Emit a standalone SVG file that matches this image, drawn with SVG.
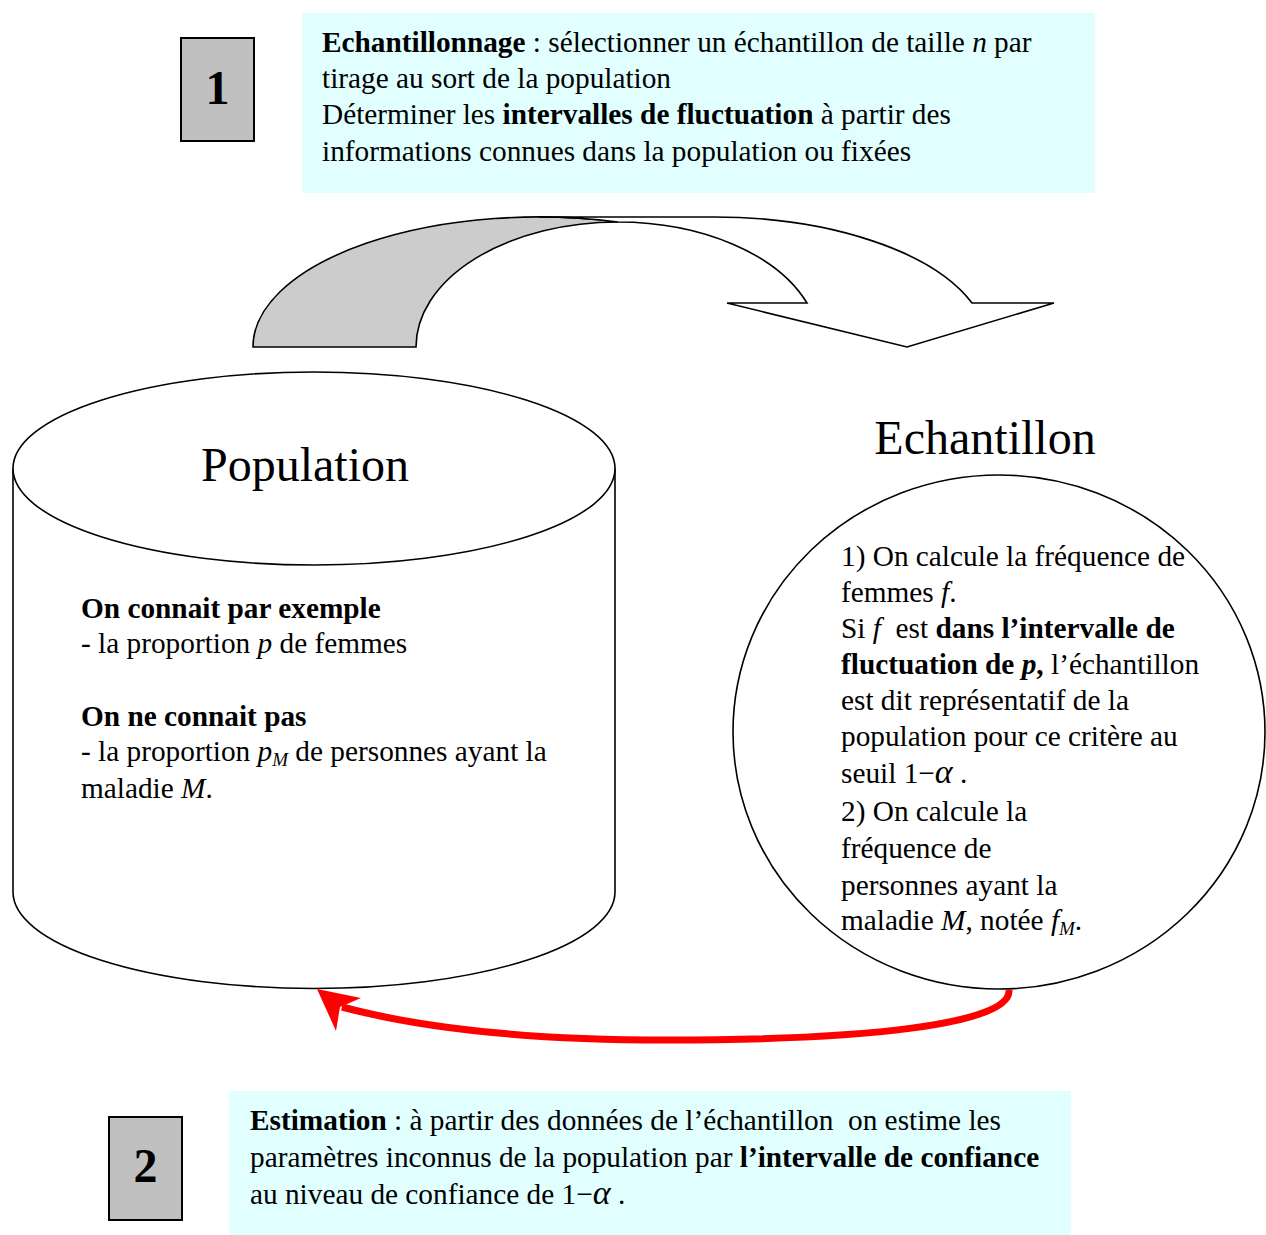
<svg xmlns="http://www.w3.org/2000/svg" width="1266" height="1235" viewBox="0 0 1266 1235">
<style>
text{font-family:"Liberation Serif","Times New Roman",serif;fill:#000;white-space:pre}
.t{font-size:29.3px}
.big{font-size:48px}
.num{font-size:48px;font-weight:bold}
.b{font-weight:bold}
.i{font-style:italic}
.sub{font-style:italic;font-size:19px}
.al{font-style:italic;font-size:34px}
.box{fill:#E1FFFF;stroke:none}
.sq{fill:#C0C0C0;stroke:#000;stroke-width:2}
.shape{stroke:#000;stroke-width:1.6}
</style>
<rect width="1266" height="1235" fill="#fff"/>

<g id="box1">
<rect class="box" x="302" y="13" width="793" height="180"/>
<text class="t" x="322" y="52"><tspan class="b">Echantillonnage</tspan> : sélectionner un échantillon de taille <tspan class="i">n</tspan> par</text>
<text class="t" x="322" y="88">tirage au sort de la population</text>
<text class="t" x="322" y="124">Déterminer les <tspan class="b">intervalles de fluctuation</tspan> à partir des</text>
<text class="t" x="322" y="161">informations connues dans la population ou fixées</text>
</g>

<g id="step1">
<rect class="sq" x="181" y="38" width="73" height="103"/>
<text class="num" x="217.5" y="104" text-anchor="middle">1</text>
</g>

<g id="curved-arrow">
<path class="shape" fill="#CCCCCC" d="M253,347 A286,130 0 0 1 618,222 A202,125 0 0 0 416,347 Z"/>
<path class="shape" fill="#FFFFFF" d="M539,217 L714,217 A274,130 0 0 1 972,303 L1054,303 L907,347 L727,303 L807,303 A202,125 0 0 0 618,222 A286,130 0 0 0 539,217 Z"/>
</g>

<g id="population">
<path class="shape" fill="#fff" d="M13,468.5 V892 A301,96.5 0 0 0 615,892 V468.5"/>
<ellipse class="shape" fill="#fff" cx="314" cy="468.5" rx="301" ry="96.5"/>
<text class="big" x="305" y="481" text-anchor="middle">Population</text>
<text class="t b" x="81" y="618">On connait par exemple</text>
<text class="t" x="81" y="653">- la proportion <tspan class="i">p</tspan> de femmes</text>
<text class="t b" x="81" y="726">On ne connait pas</text>
<text class="t" x="81" y="761">- la proportion <tspan class="i">p</tspan><tspan class="sub" dy="5">M</tspan><tspan dy="-5"> de personnes ayant la</tspan></text>
<text class="t" x="81" y="798">maladie <tspan class="i">M</tspan>.</text>
</g>

<g id="echantillon">
<text class="big" x="985" y="454" text-anchor="middle">Echantillon</text>
<ellipse class="shape" fill="#fff" cx="999" cy="732" rx="266" ry="257"/>
<text class="t" x="841" y="566">1) On calcule la fréquence de</text>
<text class="t" x="841" y="602">femmes <tspan class="i">f</tspan>.</text>
<text class="t" x="841" y="638">Si <tspan class="i">f</tspan>  est <tspan class="b">dans l’intervalle de</tspan></text>
<text class="t" x="841" y="674"><tspan class="b">fluctuation de </tspan><tspan class="b i">p</tspan><tspan class="b">,</tspan> l’échantillon</text>
<text class="t" x="841" y="710">est dit représentatif de la</text>
<text class="t" x="841" y="746">population pour ce critère au</text>
<text class="t" x="841" y="783">seuil 1−<tspan class="al">α</tspan> .</text>
<text class="t" x="841" y="821">2) On calcule la</text>
<text class="t" x="841" y="858">fréquence de</text>
<text class="t" x="841" y="895">personnes ayant la</text>
<text class="t" x="841" y="930">maladie <tspan class="i">M</tspan>, notée <tspan class="i">f</tspan><tspan class="sub" dy="5">M</tspan><tspan dy="-5">.</tspan></text>
</g>

<g id="connectors">
<path d="M1009,990 C1012,1025 860,1040 667,1040 C520,1040 420,1028 342,1007" fill="none" stroke="#FF0000" stroke-width="7"/>
<polygon points="317,989 361,998 340,1007 336,1031" fill="#FF0000"/>
</g>

<g id="box2">
<rect class="box" x="229" y="1091" width="842" height="144"/>
<text class="t" x="250" y="1130"><tspan class="b">Estimation</tspan> : à partir des données de l’échantillon  on estime les</text>
<text class="t" x="250" y="1167">paramètres inconnus de la population par <tspan class="b">l’intervalle de confiance</tspan></text>
<text class="t" x="250" y="1204">au niveau de confiance de 1−<tspan class="al">α</tspan> .</text>
</g>

<g id="step2">
<rect class="sq" x="109" y="1117" width="73" height="103"/>
<text class="num" x="145.5" y="1182" text-anchor="middle">2</text>
</g>
</svg>
